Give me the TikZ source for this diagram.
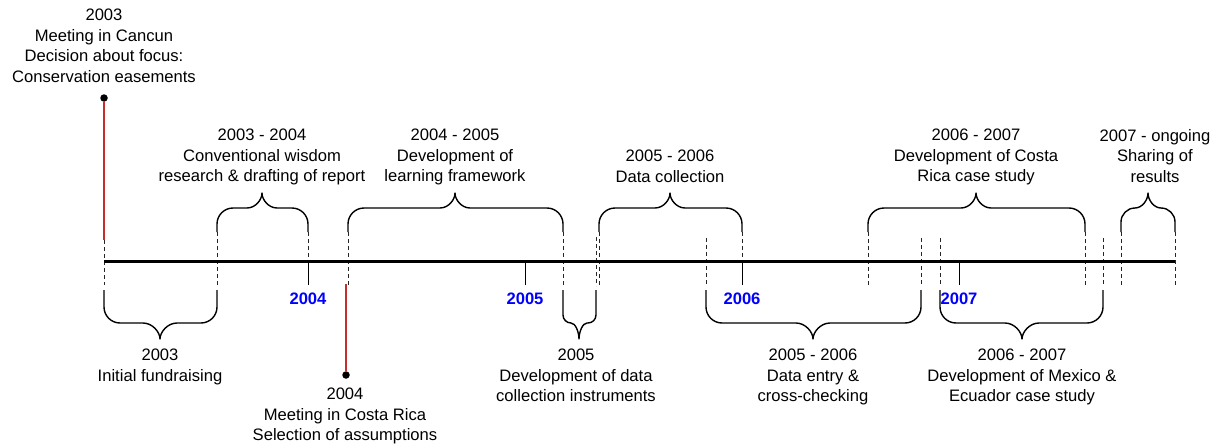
\documentclass[tikz,border=0pt]{standalone}
\usepackage{fontspec}
\setmainfont{Liberation Sans}
\definecolor{evred}{RGB}{200,45,45}
\definecolor{yrblue}{RGB}{0,0,255}
\newcommand\BrUp[5]{\draw[bracestyle] (#1,232) -- (#1,{208+#4}) .. controls (#1,{208+0.45*#4}) and ({#1+0.45*#4},208) .. ({#1+#4},208) -- ({#3-#5},208) .. controls ({#3-0.45*#5},208) and (#3,200) .. (#3,193) .. controls (#3,200) and ({#3+0.45*#5},208) .. ({#3+#5},208) -- ({#2-#4},208) .. controls ({#2-0.45*#4},208) and (#2,{208+0.45*#4}) .. (#2,{208+#4}) -- (#2,232);}
\newcommand\BrDn[5]{\draw[bracestyle] (#1,290) -- (#1,{323-#4}) .. controls (#1,{323-0.45*#4}) and ({#1+0.45*#4},323) .. ({#1+#4},323) -- ({#3-#5},323) .. controls ({#3-0.45*#5},323) and (#3,332) .. (#3,339) .. controls (#3,332) and ({#3+0.45*#5},323) .. ({#3+#5},323) -- ({#2-#4},323) .. controls ({#2-0.45*#4},323) and (#2,{323-0.45*#4}) .. (#2,{323-#4}) -- (#2,290);}
\begin{document}
\begin{tikzpicture}[x=1pt,y=-1pt,
  lbl/.style={align=center,inner sep=0pt,anchor=north,font=\fontsize{16.6}{20.5}\selectfont},
  yr/.style={inner sep=0pt,anchor=north,text=yrblue,font=\fontsize{16.6}{20}\selectfont\bfseries},
  axisline/.style={line width=3.2pt},
  dashmark/.style={line width=0.9pt,dash pattern=on 4pt off 3pt,black!85},
  tickline/.style={line width=1pt},
  bracestyle/.style={line width=1.4pt,line join=round},
  redline/.style={evred,line width=1.6pt},
  evdot/.style={circle,fill=black,inner sep=0pt,minimum size=7.5pt}]
\useasboundingbox (0,0) rectangle (1218,444);

% dashed event markers
\foreach \x/\a/\b in {104/240/285, 217/232/285, 308/232/261, 348/232/285, 563/232/287,
  596/237/286, 599/232/285, 706/238/285, 742/232/261, 868/232/285, 921/238/285,
  940/238/285, 1085/232/285, 1103/238/285, 1121/232/285, 1175/232/285}
  \draw[dashmark] (\x,\a) -- (\x,\b);

% year ticks
\foreach \x in {308,525,742,959}
  \draw[tickline] (\x,261) -- (\x,285);

% axis
\coordinate (axL) at (104,261.5);
\coordinate (axR) at (1175,261.5);
\draw[axisline] (axL) -- (axR);

% year labels
\node[yr] (y2004) at (308,293) {2004};
\node[yr] (y2005) at (525,293) {2005};
\node[yr] (y2006) at (742,293) {2006};
\node[yr] (y2007) at (959,293) {2007};

% meeting events
\node[evdot] (d1) at (104,98) {};
\coordinate (e1) at (104,240);
\draw[redline] (d1) -- (e1);
\node[lbl] (t1) at (104,9) {2003\\Meeting in Cancun\\Decision about focus:\\Conservation easements};

\node[evdot] (d2) at (346,375) {};
\coordinate (e2) at (346,284);
\draw[redline] (e2) -- (d2);
\node[lbl] (t2) at (345,388) {2004\\Meeting in Costa Rica\\Selection of assumptions};

% upper braces
\BrUp{217}{308}{262}{16}{15}
\BrUp{348}{563}{455}{16}{15}
\BrUp{599}{742}{670}{16}{15}
\BrUp{868}{1085}{976}{16}{15}
\BrUp{1121}{1175}{1148}{14}{13}

% lower braces
\BrDn{104}{217}{160}{16}{17}
\BrDn{563}{596}{579}{8}{8}
\BrDn{706}{921}{813}{16}{17}
\BrDn{940}{1103}{1022}{16}{17}

% upper labels
\node[lbl] (u1) at (262,129) {2003 - 2004\\Conventional wisdom\\research \& drafting of report};
\node[lbl] (u2) at (455,129) {2004 - 2005\\Development of\\learning framework};
\node[lbl] (u3) at (670,150) {2005 - 2006\\Data collection};
\node[lbl] (u4) at (976,129) {2006 - 2007\\Development of Costa\\Rica case study};
\node[lbl] (u5) at (1155,129) {2007 - ongoing\\Sharing of\\results};

% lower labels
\node[lbl] (l1) at (160,349) {2003\\Initial fundraising};
\node[lbl] (l2) at (576,349) {2005\\Development of data\\collection instruments};
\node[lbl] (l3) at (813,349) {2005 - 2006\\Data entry \&\\cross-checking};
\node[lbl] (l4) at (1022,349) {2006 - 2007\\Development of Mexico \&\\Ecuador case study};
\end{tikzpicture}
\end{document}
